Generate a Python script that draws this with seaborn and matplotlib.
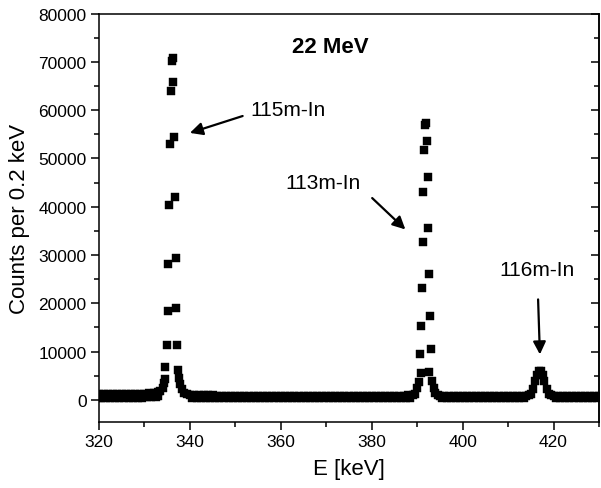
import numpy as np
import pandas as pd
import matplotlib
matplotlib.use("Agg")
import matplotlib.pyplot as plt
import seaborn as sns
from matplotlib.ticker import MultipleLocator

# ---------------- data ----------------
# flat continuum: upper edge of the noisy band
bg_energy = [320, 321, 322, 323, 324, 325, 326, 327, 328, 329, 330, 331, 332, 333,
             340, 341, 342, 343, 344, 345, 346, 347, 348, 349,
             350, 351, 352, 353, 354, 355, 356, 357, 358, 359,
             360, 361, 362, 363, 364, 365, 366, 367, 368, 369,
             370, 371, 372, 373, 374, 375, 376, 377, 378, 379,
             380, 381, 382, 383, 384, 385, 386, 387, 388,
             395, 396, 397, 398, 399, 400, 401, 402, 403, 404,
             405, 406, 407, 408, 409, 410, 411, 412, 413,
             420, 421, 422, 423, 424, 425, 426, 427, 428, 429, 430]
bg_high = [1200, 1200, 1200, 1200, 1200, 1200, 1200, 1200, 1250, 1250, 1300, 1350, 1450, 1600,
           1000, 950, 950, 900, 900, 900, 850, 850, 850, 850,
           850, 850, 850, 850, 850, 850, 850, 850, 850, 850,
           850, 850, 850, 850, 850, 850, 850, 850, 850, 850,
           850, 850, 850, 850, 850, 850, 850, 850, 850, 850,
           850, 850, 850, 850, 850, 850, 850, 850, 900,
           850, 850, 850, 850, 850, 850, 850, 850, 850, 850,
           850, 850, 850, 850, 850, 850, 850, 850, 850,
           850, 850, 850, 850, 850, 850, 850, 850, 850, 850, 850]
# flat continuum: lower edge of the noisy band (bins in between)
bg_energy_low = [320.5, 321.5, 322.5, 323.5, 324.5, 325.5, 326.5, 327.5, 328.5, 329.5,
                 330.5, 331.5, 332.5, 333.0,
                 340.5, 341.5, 342.5, 343.5, 344.5, 345.5, 346.5, 347.5, 348.5, 349.5,
                 350.5, 351.5, 352.5, 353.5, 354.5, 355.5, 356.5, 357.5, 358.5, 359.5,
                 360.5, 361.5, 362.5, 363.5, 364.5, 365.5, 366.5, 367.5, 368.5, 369.5,
                 370.5, 371.5, 372.5, 373.5, 374.5, 375.5, 376.5, 377.5, 378.5, 379.5,
                 380.5, 381.5, 382.5, 383.5, 384.5, 385.5, 386.5, 387.5, 388.5,
                 395.5, 396.5, 397.5, 398.5, 399.5, 400.5, 401.5, 402.5, 403.5, 404.5,
                 405.5, 406.5, 407.5, 408.5, 409.5, 410.5, 411.5, 412.5, 413.5,
                 420.5, 421.5, 422.5, 423.5, 424.5, 425.5, 426.5, 427.5, 428.5, 429.5, 319.8]
bg_low = [450, 450, 450, 450, 450, 450, 450, 450, 450, 450, 500, 550, 600, 700,
          450, 350, 300, 300, 300, 300, 300, 300, 300, 300,
          300, 300, 300, 300, 300, 300, 300, 300, 300, 300,
          300, 300, 300, 300, 300, 300, 300, 300, 300, 300,
          300, 300, 300, 300, 300, 300, 300, 300, 300, 300,
          300, 300, 300, 300, 300, 300, 300, 300, 350,
          350, 300, 300, 300, 300, 300, 300, 300, 300, 300,
          300, 300, 300, 300, 300, 300, 300, 300, 300,
          350, 300, 300, 300, 300, 300, 300, 300, 300, 300, 450]

# rising / falling feet of the peaks and the small 116m-In peak (416.9 keV)
foot_energy = [333.5, 334.0, 334.3, 334.5,
               337.6, 337.9, 338.3, 338.8, 339.3,
               389.0, 389.5, 390.0, 390.4,
               393.3, 393.6, 394.0, 394.5,
               414.0, 414.5, 415.0, 415.5, 416.0, 416.4, 416.8, 417.2, 417.6,
               418.0, 418.5, 419.0, 419.5]
foot_counts = [1800, 2500, 3400, 4300,
               4500, 3200, 2200, 1500, 1150,
               900, 1300, 2400, 3700,
               3800, 2500, 1500, 1000,
               700, 900, 1300, 2300, 3800, 5100, 5900, 5900, 5100,
               3800, 2300, 1300, 900]

# 115m-In peak (336.2 keV)
p1_energy = [334.6, 335.0, 335.1, 335.25, 335.4, 335.6, 335.8, 336.05,
             336.2, 336.35, 336.5, 336.7, 336.85, 337.0, 337.15, 337.45]
p1_counts = [6700, 11300, 18400, 28100, 40300, 53000, 64000, 70100,
             70900, 65800, 54400, 42000, 29400, 19000, 11300, 6100]

# 113m-In peak (391.7 keV)
p2_energy = [390.85, 390.7, 390.95, 391.15, 391.35, 391.35, 391.55, 391.75,
             391.9, 392.1, 392.3, 392.45, 392.65, 392.9, 393.05, 392.7]
p2_counts = [5500, 9500, 15200, 23100, 32600, 43000, 51700, 56900,
             57400, 53600, 46100, 35700, 26000, 17300, 10500, 5800]

x_ticks = [320, 340, 360, 380, 400, 420]
y_ticks = [0, 10000, 20000, 30000, 40000, 50000, 60000, 70000, 80000]

# ---------------- plot ----------------
sns.set_style("ticks")
plt.rcParams['font.family'] = ['Liberation Sans', 'DejaVu Sans']
plt.rcParams.update({"text.color": "black", "axes.labelcolor": "black",
                     "xtick.color": "black", "ytick.color": "black",
                     "axes.edgecolor": "black"})

df = pd.DataFrame({
    "E": bg_energy + bg_energy_low + foot_energy + p1_energy + p2_energy,
    "Counts": bg_high + bg_low + foot_counts + p1_counts + p2_counts,
})

fig = plt.figure(figsize=(6.01, 4.89), dpi=100)
ax = fig.add_axes([99 / 601, 1 - 423 / 489, (599 - 99) / 601, (423 - 14.7) / 489])

sns.scatterplot(data=df, x="E", y="Counts", marker="s", s=32, color="black",
                edgecolor="black", linewidth=0.3, ax=ax, legend=False)

ax.set_xlim(320, 430)
ax.set_ylim(-4600, 80000)
ax.set_xticks(x_ticks)
ax.set_yticks(y_ticks)
ax.xaxis.set_minor_locator(MultipleLocator(10))
ax.yaxis.set_minor_locator(MultipleLocator(5000))
ax.tick_params(which="major", direction="out", length=6, width=1.1, labelsize=12.5, pad=3)
ax.tick_params(which="minor", direction="out", length=3.5, width=1.1)
for sp in ax.spines.values():
    sp.set_visible(True)
    sp.set_linewidth(1.1)
    sp.set_color("black")

sec = ax.secondary_yaxis("right")
sec.set_yticks(y_ticks)
sec.yaxis.set_minor_locator(MultipleLocator(5000))
sec.tick_params(which="major", direction="in", length=6, width=1.1, labelright=False)
sec.tick_params(which="minor", direction="in", length=3.5, width=1.1)
sec.spines["right"].set_linewidth(1.1)

ax.set_xlabel("E [keV]", fontsize=16, labelpad=6)
ax.set_ylabel("Counts per 0.2 keV", fontsize=16, labelpad=6)

ax.text(370.8, 73300, "22 MeV", fontsize=16, fontweight="bold", ha="center", va="center")

arrow = dict(arrowstyle="-|>", color="black", lw=1.6, mutation_scale=19, shrinkA=0, shrinkB=0)
ax.annotate("", xy=(340.0, 55300), xytext=(351.6, 58800), arrowprops=arrow)
ax.text(361.5, 60250, "115m-In", fontsize=15, ha="center", va="center")
ax.annotate("", xy=(387.4, 35300), xytext=(380.1, 41800), arrowprops=arrow)
ax.text(369.2, 45100, "113m-In", fontsize=15, ha="center", va="center")
ax.annotate("", xy=(417.0, 9400), xytext=(416.6, 20800), arrowprops=arrow)
ax.text(416.3, 27100, "116m-In", fontsize=15, ha="center", va="center")

fig.savefig("out.png", dpi=100)
